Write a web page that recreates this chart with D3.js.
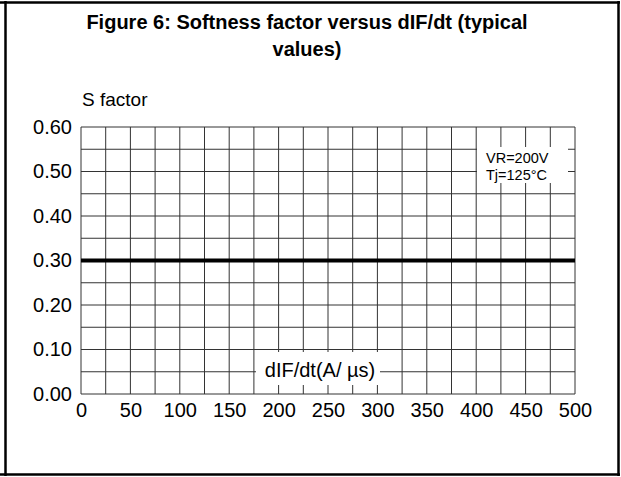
<!DOCTYPE html>
<html><head><meta charset="utf-8">
<script src="https://cdn.jsdelivr.net/npm/d3@7"></script>
<style>html,body{margin:0;padding:0;background:#fff}svg{display:block}</style>
</head><body>
<script>
const titleLines = ["Figure 6: Softness factor versus dIF/dt (typical", "values)"];
const yLabel = "S factor";
const xLabel = "dIF/dt(A/ µs)";
const notes = ["VR=200V", "Tj=125°C"];
const xTicks = [0, 50, 100, 150, 200, 250, 300, 350, 400, 450, 500];
const yTicks = [0.00, 0.10, 0.20, 0.30, 0.40, 0.50, 0.60];
const xGrid = d3.range(0, 501, 25);
const yGrid = d3.range(0, 0.601, 0.05);
const dIFdt = [0, 500];
const sFactor = [0.30, 0.30];

const W = 621, H = 477;
const svg = d3.select("body").append("svg").attr("width", W).attr("height", H);
const font = "'Liberation Sans', Arial, sans-serif";

const x = d3.scaleLinear().domain([0, 500]).range([81, 575]);
const y = d3.scaleLinear().domain([0, 0.6]).range([394, 127]);

// frame
const frame = svg.append("g").attr("stroke", "#000").attr("stroke-width", 2.5);
frame.append("line").attr("x1", 0).attr("x2", 620).attr("y1", 2.5).attr("y2", 2.5);
frame.append("line").attr("x1", 0).attr("x2", 620).attr("y1", 474.5).attr("y2", 474.5);
frame.append("line").attr("x1", 5.5).attr("x2", 5.5).attr("y1", 1).attr("y2", 476);
frame.append("line").attr("x1", 618.5).attr("x2", 618.5).attr("y1", 1).attr("y2", 476);

// title
svg.append("g").selectAll("text").data(titleLines).join("text")
  .attr("x", 307).attr("y", 29).attr("dy", (d, i) => i * 27)
  .attr("text-anchor", "middle").attr("font-family", font)
  .attr("font-weight", "bold").attr("font-size", 20).text(d => d);

svg.append("text").attr("x", 82).attr("y", 106).attr("font-family", font)
  .attr("font-size", 19).text(yLabel);

// grid
const g = svg.append("g");
g.append("g").selectAll("line").data(xGrid).join("line")
  .attr("x1", d => x(d)).attr("x2", d => x(d)).attr("y1", y(0.6)).attr("y2", y(0))
  .attr("stroke", "#333").attr("stroke-width", 1);
g.append("g").selectAll("line").data(yGrid).join("line")
  .attr("x1", x(0)).attr("x2", x(500)).attr("y1", d => y(d)).attr("y2", d => y(d))
  .attr("stroke", "#333").attr("stroke-width", 1);

// axes tick labels
const xAxis = d3.axisBottom(x).tickValues(xTicks).tickSize(0).tickPadding(9).tickFormat(d3.format("d"));
const xa = svg.append("g").attr("transform", `translate(0,${y(0)})`).call(xAxis);
xa.select(".domain").remove();
xa.selectAll("text").attr("font-family", font).attr("font-size", 20).attr("fill", "#000");

const yAxis = d3.axisLeft(y).tickValues(yTicks).tickSize(0).tickPadding(9).tickFormat(d3.format(".2f"));
const ya = svg.append("g").attr("transform", `translate(${x(0)},0)`).call(yAxis);
ya.select(".domain").remove();
ya.selectAll("text").attr("font-family", font).attr("font-size", 20).attr("fill", "#000");

// data line
const line = d3.line().x(d => x(d[0])).y(d => y(d[1]));
svg.append("path").datum(dIFdt.map((d, i) => [d, sFactor[i]]))
  .attr("d", line).attr("fill", "none").attr("stroke", "#000").attr("stroke-width", 4);

// x label with white box
svg.append("rect").attr("x", 256).attr("y", 352).attr("width", 124).attr("height", 33).attr("fill", "#fff");
svg.append("text").attr("x", 320).attr("y", 377).attr("text-anchor", "middle")
  .attr("font-family", font).attr("font-size", 20).text(xLabel);

// notes
svg.append("rect").attr("x", 477).attr("y", 147).attr("width", 91).attr("height", 36).attr("fill", "#fff");
svg.append("g").selectAll("text").data(notes).join("text")
  .attr("x", 486).attr("y", (d, i) => 163 + i * 17)
  .attr("font-family", font).attr("font-size", 14.5).text(d => d);
</script>
</body></html>
